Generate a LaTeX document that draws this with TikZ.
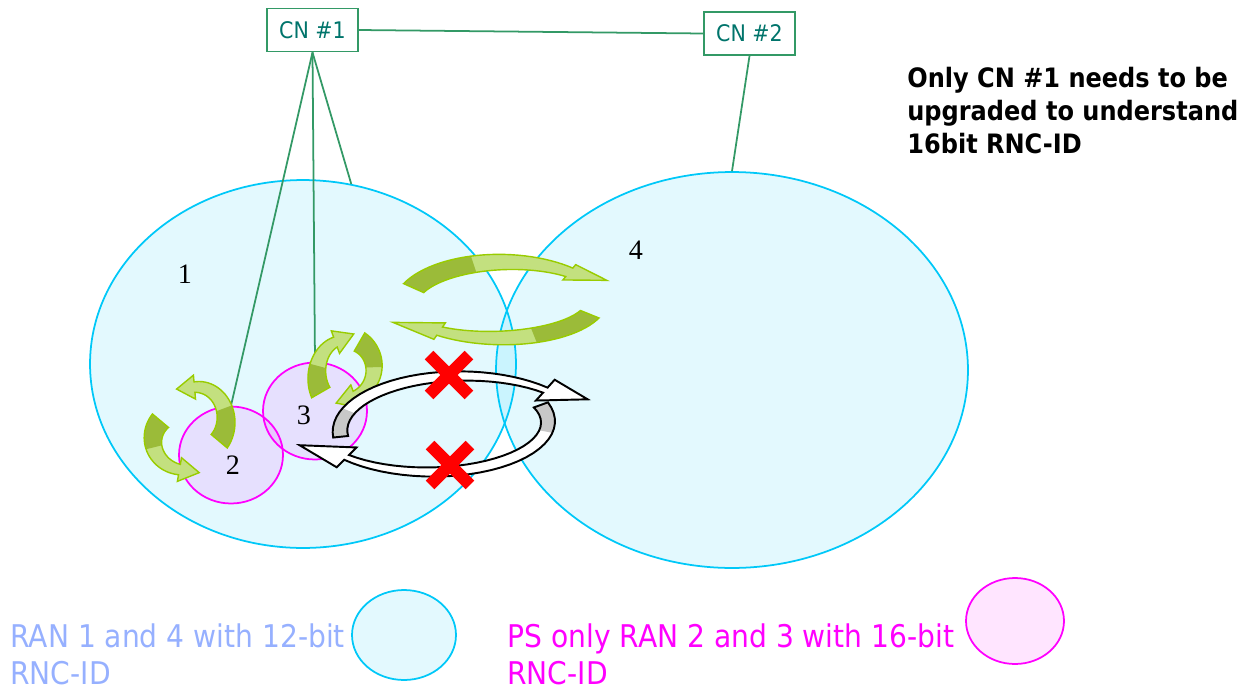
\documentclass[tikz,border=0pt]{standalone}
\usepackage{fontspec}
\usepackage{tikz}
\usetikzlibrary{positioning,calc,shapes.geometric,shapes.misc}
\newfontfamily\verdfont[FakeStretch=0.9]{DejaVu Sans}
\newfontfamily\numfont{Liberation Serif}
\definecolor{ranline}{HTML}{00C8F8}
\definecolor{psmagenta}{HTML}{FF00FF}
\definecolor{cngreen}{HTML}{339966}
\definecolor{cntext}{HTML}{00746B}
\definecolor{ranblue}{HTML}{96B0FF}
\definecolor{gdark}{HTML}{9BBB39}
\definecolor{glight}{HTML}{C3E07F}
\definecolor{gedge}{HTML}{99CC00}
\definecolor{tailgrey}{HTML}{C8C8C8}
\definecolor{crossred}{HTML}{FF0000}

\tikzset{
  cnbox/.style={draw=cngreen, line width=1.1pt, text=cntext, minimum width=1.82cm, minimum height=0.86cm, inner sep=0pt, font=\verdfont\fontsize{13}{15}\selectfont},
  ranarea/.style={ellipse, draw=ranline, line width=1pt, fill=ranline, fill opacity=0.11, inner sep=0pt},
  psarea/.style={ellipse, draw=psmagenta, line width=1pt, fill=psmagenta, fill opacity=0.1, inner sep=0pt},
  cnlink/.style={draw=cngreen, line width=1pt},
  ranlabel/.style={font=\numfont\fontsize{16}{18}\selectfont},
  blocked/.style={cross out, draw=crossred, line width=7pt, minimum size=0.55cm, inner sep=0pt},
  notetext/.style={font=\verdfont\bfseries\fontsize{15.2}{18.8}\selectfont, inner sep=0pt, align=left},
  legendtext/.style={font=\verdfont\fontsize{17.8}{21}\selectfont, inner sep=0pt, align=left}
}

% bent arrow along an ellipse: centre x, centre y, radius x, radius y, start angle, end angle, head length, tail width, head half width
\def\tailfrac{0.45}
\def\taper{0.5}
\def\tipshift{0}
\newcommand{\bentarrow}[9]{%
  \pgfmathsetmacro{\dirsign}{(#6>#5) ? 1 : -1}%
  \pgfmathsetmacro{\midang}{#5+\tailfrac*(#6-(#5))}%
  \pgfmathsetlengthmacro{\headlen}{#7*0.569pt}%
  \coordinate (ca end) at ({#1+#3*cos(#6)},{#2+#4*sin(#6)});
  \coordinate (ca next) at ({#1+#3*cos(#6+(\dirsign))},{#2+#4*sin(#6+(\dirsign))});
  \coordinate (ca tip) at ($(ca end)!\headlen!(ca next) + ({\tipshift*cos(#6)},{\tipshift*sin(#6)})$);
  \def\capath{plot[domain=#5:#6,samples=30] ({#1+(#3+#8*(1-\taper*(\x-(#5))/(#6-(#5)))/2)*cos(\x)},{#2+(#4+#8*(1-\taper*(\x-(#5))/(#6-(#5)))/2)*sin(\x)})
    -- ({#1+(#3+#9)*cos(#6)},{#2+(#4+#9)*sin(#6)}) -- (ca tip)
    -- ({#1+(#3-#9)*cos(#6)},{#2+(#4-#9)*sin(#6)})
    -- plot[domain=#6:#5,samples=30] ({#1+(#3-#8*(1-\taper*(\x-(#5))/(#6-(#5)))/2)*cos(\x)},{#2+(#4-#8*(1-\taper*(\x-(#5))/(#6-(#5)))/2)*sin(\x)})
    -- cycle}%
  \fill[cbody] \capath;
  \fill[ctail] plot[domain=#5:\midang,samples=15] ({#1+(#3+#8*(1-\taper*(\x-(#5))/(#6-(#5)))/2)*cos(\x)},{#2+(#4+#8*(1-\taper*(\x-(#5))/(#6-(#5)))/2)*sin(\x)})
    -- plot[domain=\midang:#5,samples=15] ({#1+(#3-#8*(1-\taper*(\x-(#5))/(#6-(#5)))/2)*cos(\x)},{#2+(#4-#8*(1-\taper*(\x-(#5))/(#6-(#5)))/2)*sin(\x)})
    -- cycle;
  \draw[cedge] \capath;
}

\begin{document}
\begin{tikzpicture}[x=0.02cm, y=-0.02cm]
\useasboundingbox (0,0) rectangle (1254,690);

% radio network areas
\node[ranarea, minimum width=8.52cm, minimum height=7.36cm] (ran1) at (303,364) {};
\node[ranarea, minimum width=9.44cm, minimum height=7.92cm] (ran4) at (732,370) {};
\node[psarea, minimum width=2.08cm, minimum height=1.94cm] (ran2) at (231,455) {};
\node[psarea, minimum width=2.08cm, minimum height=1.94cm] (ran3) at (315,411) {};

% core network nodes
\node[cnbox] (cn1) at (312.5,30) {CN \#1};
\node[cnbox] (cn2) at (749.5,33.5) {CN \#2};
\draw[cnlink] (cn1.east) -- (cn2.west);
\draw[cnlink] (cn1.south) -- (ran2.north);
\draw[cnlink] (cn1.south) -- (ran3.north);
\draw[cnlink] (cn1.south) -- (ran1.75);
\draw[cnlink] (cn2.south) -- (ran4.north);

\node[ranlabel] (lab1) at (185,274) {1};
\node[ranlabel] (lab2) at (233,465) {2};
\node[ranlabel] (lab3) at (304,415) {3};
\node[ranlabel] (lab4) at (636,250) {4};

% green mobility arrows
\begin{scope}[cbody/.style={fill=glight}, ctail/.style={fill=gdark}, cedge/.style={draw=gedge, line width=0.8pt}]
\def\tipshift{6}
\bentarrow{505}{306}{100}{44}{204}{310}{36}{22}{10}
\def\tipshift{4}
\bentarrow{497}{300}{100}{38}{22}{125}{46}{20}{10}
\def\tipshift{0}
\bentarrow{345}{375}{28}{35}{150}{250}{20}{21}{12}
\bentarrow{345}{368}{29}{30}{-60}{70}{20}{21}{12}
\bentarrow{197}{420}{29}{33}{40}{-95}{18}{21}{12}
\bentarrow{185}{440}{32}{30}{220}{100}{20}{21}{12}
\end{scope}

% relocation arrows between RAN 3 and RAN 4
\begin{scope}[cbody/.style={fill=white}, ctail/.style={fill=tailgrey}, cedge/.style={draw=black, line width=1.1pt}]
\def\tailfrac{0.2}
\def\taper{0.55}
\def\tipshift{8}
\bentarrow{463}{431}{123}{55}{174}{312}{40}{15}{14}
\def\tipshift{8}
\bentarrow{430}{422}{118}{50}{-20}{135}{45}{15}{14}
\end{scope}

\node[blocked] (xtop) at (449,375) {};
\node[blocked] (xbot) at (450,465) {};

\node[notetext, anchor=north west] (note) at (907,67) {Only CN \#1 needs to be\\upgraded to understand\\16bit RNC-ID};

% legend
\node[legendtext, text=ranblue, anchor=north west] (leg1) at (10,623) {RAN 1 and 4 with 12-bit\\RNC-ID};
\node[ranarea, minimum width=2.08cm, minimum height=1.8cm] (legran) at (404,635) {};
\node[legendtext, text=psmagenta, anchor=north west] (leg2) at (507,623) {PS only RAN 2 and 3 with 16-bit\\RNC-ID};
\node[psarea, minimum width=1.96cm, minimum height=1.72cm] (legps) at (1015,621) {};
\end{tikzpicture}
\end{document}
